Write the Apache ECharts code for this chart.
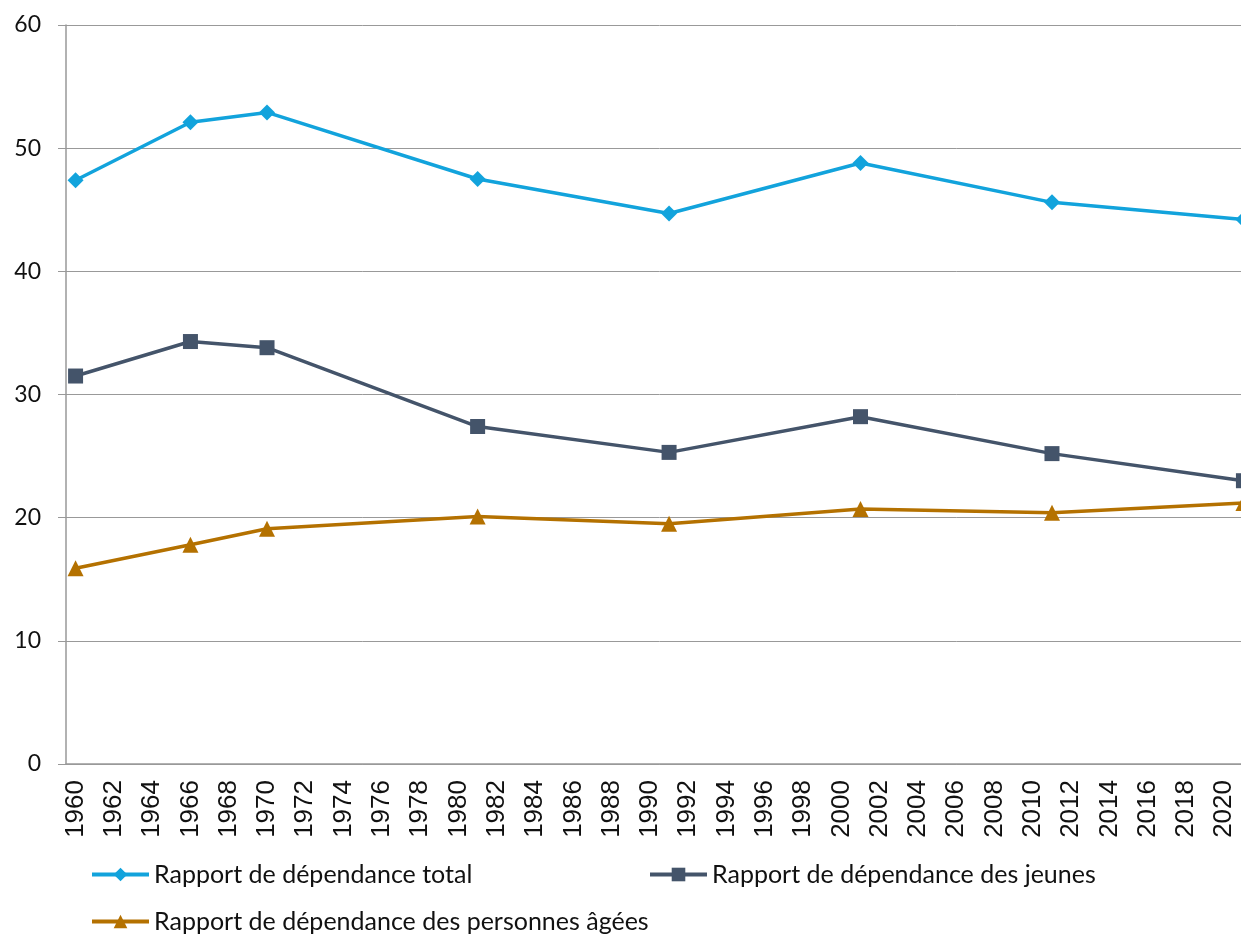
<!DOCTYPE html>
<html>
<head>
<meta charset="utf-8">
<script src="https://cdn.jsdelivr.net/npm/echarts@6/dist/echarts.min.js"></script>
<style>
  html, body { margin: 0; padding: 0; background: #fff; overflow: hidden; }
  #chart { width: 1253px; height: 936px; }
</style>
</head>
<body>
<div id="chart"></div>
<script>
  // années de l'axe (1960-2021)
  var years = []
  for (var y = 1960; y <= 2021; y++) years.push(String(y))

  var pointYears = ['1960', '1966', '1970', '1981', '1991', '2001', '2011', '2021']
  var total = [47.4, 52.1, 52.9, 47.5, 44.7, 48.8, 45.6, 44.2]
  var jeunes = [31.5, 34.3, 33.8, 27.4, 25.3, 28.2, 25.2, 23.0]
  var agees = [15.9, 17.8, 19.1, 20.1, 19.5, 20.7, 20.4, 21.2]

  var names = [
    'Rapport de dépendance total',
    'Rapport de dépendance des jeunes',
    'Rapport de dépendance des personnes âgées'
  ]

  function pairs(vals) {
    return pointYears.map(function (yr, i) { return [yr, vals[i]] })
  }

  var chart = echarts.init(document.getElementById('chart'))

  var legendBase = {
    padding: 0,
    itemWidth: 57,
    itemHeight: 17,
    itemGap: 4,
    lineStyle: { width: 4 },
    textStyle: { fontFamily: 'Lato', fontSize: 25, color: '#111' }
  }

  chart.setOption({
    animation: false,
    legend: [
      Object.assign({ data: [names[0]], left: 90, top: 862 }, legendBase),
      Object.assign({ data: [names[1]], left: 648, top: 862 }, legendBase),
      Object.assign({ data: [names[2]], left: 90, top: 909 }, legendBase)
    ],
    grid: { left: 66, top: 25, right: 0, bottom: 172 },
    xAxis: {
      type: 'category',
      data: years,
      boundaryGap: true,
      axisLine: { lineStyle: { color: '#999', width: 1.5 } },
      axisTick: { interval: 0, length: 6, lineStyle: { color: '#999' } },
      axisLabel: {
        interval: 1,
        rotate: 90,
        fontFamily: 'Liberation Sans',
        fontSize: 26,
        color: '#111',
        margin: 16
      }
    },
    yAxis: {
      type: 'value',
      min: 0,
      max: 60,
      interval: 10,
      axisLine: { show: true, lineStyle: { color: '#999', width: 1.5 } },
      axisTick: { show: true, length: 8, lineStyle: { color: '#999' } },
      axisLabel: { fontFamily: 'Lato', fontSize: 23, color: '#111', margin: 25 },
      splitLine: { lineStyle: { color: '#999', width: 1 } }
    },
    series: [
      {
        name: names[0],
        type: 'line',
        data: pairs(total),
        showAllSymbol: true,
        symbol: 'diamond',
        symbolSize: 16,
        color: '#12a3dc',
        lineStyle: { width: 3.5 }
      },
      {
        name: names[1],
        type: 'line',
        data: pairs(jeunes),
        showAllSymbol: true,
        symbol: 'rect',
        symbolSize: 15,
        color: '#44546a',
        lineStyle: { width: 3.5 }
      },
      {
        name: names[2],
        type: 'line',
        data: pairs(agees),
        showAllSymbol: true,
        symbol: 'triangle',
        symbolSize: 16,
        color: '#b47100',
        lineStyle: { width: 3.5 }
      }
    ]
  })
</script>
</body>
</html>
